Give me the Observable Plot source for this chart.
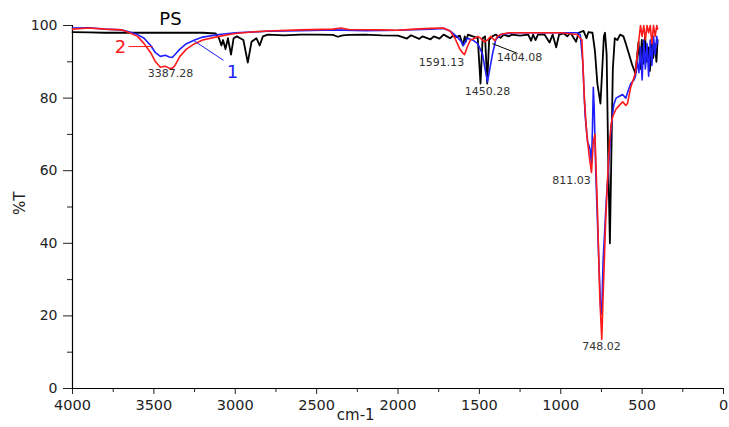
<!DOCTYPE html>
<html>
<head>
<meta charset="utf-8">
<script src="https://cdn.jsdelivr.net/npm/d3@7"></script>
<script src="https://cdn.jsdelivr.net/npm/@observablehq/plot@0.6"></script>
<style>
  html, body { margin: 0; padding: 0; background: #fff; }
  #chart svg { display: block; }
</style>
</head>
<body>
<div id="chart"></div>
<script>
// wavenumber (cm-1), %T
const psSeries = [
  [4000,98.2],[3900,98.1],[3800,98.0],[3700,98.0],[3600,98.0],[3500,98.0],[3400,98.0],[3300,98.0],[3200,98.0],
  [3120,97.8],[3100,96.5],[3085,94.5],[3075,96.0],[3060,93.5],[3045,96.5],[3026,92.0],[3010,96.5],[2990,97.0],
  [2950,96.0],[2923,89.8],[2900,95.5],[2870,96.5],[2850,94.5],[2830,97.0],[2800,97.5],[2700,97.3],[2600,97.5],
  [2500,97.5],[2400,97.4],[2370,96.9],[2340,97.3],[2300,97.4],[2200,97.5],[2100,97.3],[2000,97.2],[1945,96.4],
  [1920,97.3],[1870,96.3],[1850,97.0],[1800,96.2],[1780,97.0],[1745,96.4],[1720,97.5],[1700,97.0],[1680,96.5],
  [1660,97.3],[1640,96.8],[1620,97.2],[1601,94.5],[1590,97.0],[1583,95.5],[1570,97.5],[1540,97.0],[1510,96.5],
  [1493,84.0],[1480,96.5],[1465,97.0],[1452,84.0],[1440,96.0],[1420,97.0],[1400,97.5],[1370,96.6],[1350,97.5],
  [1320,97.0],[1300,97.5],[1250,97.2],[1200,97.5],[1182,95.8],[1170,97.5],[1155,96.0],[1140,97.5],[1100,97.5],
  [1069,95.3],[1050,97.5],[1028,94.0],[1010,97.5],[980,97.8],[960,97.0],[940,98.0],[906,95.5],[890,98.0],
  [860,98.5],[842,96.5],[830,98.2],[805,98.0],[790,93.0],[775,84.0],[756,78.5],[745,88.0],[735,97.0],
  [728,98.0],[718,92.0],[708,62.0],[698,40.0],[690,62.0],[680,88.0],[668,96.5],[652,96.0],[635,97.5],
  [615,97.0],[600,95.0],[580,92.0],[560,89.0],[541,86.8],[532,91.0],[522,95.5],[512,88.0],[502,96.0],
  [492,89.5],[482,97.0],[472,90.0],[462,94.0],[452,87.5],[442,96.0],[432,91.0],[422,95.0],[412,90.0],[405,96.0]
];
const sample1Series = [
  [4000,99.3],[3900,99.4],[3800,99.0],[3700,98.8],[3650,98.2],[3600,97.5],[3560,96.5],[3520,94.5],[3490,92.5],
  [3460,91.5],[3430,91.8],[3405,91.3],[3387,91.2],[3370,92.0],[3340,93.5],[3300,95.0],[3250,96.0],[3200,96.8],
  [3100,97.5],[3000,98.0],[2800,98.4],[2600,98.6],[2400,98.8],[2200,98.6],[2000,98.7],[1800,99.0],[1720,99.2],
  [1680,98.5],[1640,97.0],[1610,95.5],[1600,94.5],[1591,95.0],[1575,96.5],[1540,96.0],[1510,95.0],[1480,92.0],
  [1465,88.0],[1450,84.5],[1440,87.0],[1420,92.0],[1400,96.0],[1370,97.5],[1300,98.0],[1100,98.0],[1000,98.0],
  [900,98.0],[880,97.5],[865,90.0],[850,75.0],[835,68.0],[820,66.0],[811,62.0],[805,72.0],[800,83.0],
  [795,78.0],[785,60.0],[770,40.0],[755,22.0],[748,20.5],[740,35.0],[720,52.0],[705,62.0],[690,72.0],
  [675,78.0],[660,80.0],[640,80.5],[620,81.0],[600,80.0],[590,81.5],[570,84.0],[550,85.0],[541,86.0],
  [530,90.0],[520,87.0],[510,94.0],[500,85.0],[490,96.0],[480,88.0],[470,95.0],[460,86.0],[450,96.0],
  [440,89.0],[430,97.0],[420,92.0],[410,97.0],[405,95.0]
];
const sample2Series = [
  [4000,99.0],[3900,99.3],[3800,99.0],[3700,98.8],[3650,98.0],[3600,97.0],[3560,95.0],[3520,92.5],[3490,90.0],
  [3460,88.5],[3430,88.8],[3405,88.2],[3387,88.2],[3370,89.0],[3340,91.5],[3300,93.5],[3250,95.0],[3200,96.0],
  [3100,97.0],[3000,97.8],[2900,98.2],[2800,98.5],[2600,98.8],[2400,99.0],[2350,99.3],[2300,98.9],[2100,98.8],
  [2000,98.7],[1900,99.0],[1800,99.2],[1720,99.3],[1680,98.5],[1650,96.5],[1620,93.5],[1600,92.3],[1591,92.0],
  [1575,94.0],[1555,96.0],[1540,96.2],[1510,97.0],[1493,96.5],[1470,95.5],[1450,96.0],[1430,97.0],[1404,95.8],
  [1390,97.0],[1370,97.5],[1320,98.0],[1200,98.0],[1100,98.0],[1000,98.0],[900,97.5],[870,96.0],[855,80.0],
  [840,70.0],[825,64.0],[811,59.5],[800,68.0],[790,70.0],[775,50.0],[760,25.0],[748,13.5],[740,25.0],
  [725,45.0],[710,60.0],[700,68.0],[690,73.0],[680,75.0],[660,77.0],[640,78.0],[620,79.0],[600,78.0],
  [590,78.5],[570,83.0],[555,85.0],[541,87.0],[530,92.0],[520,96.0],[510,100],[500,97.0],[490,100],
  [480,96.0],[470,100],[460,98.0],[450,100],[440,95.0],[430,100],[420,97.0],[410,100],[405,99.0]
];

const xTicks = [4000,3500,3000,2500,2000,1500,1000,500,0];
const xMinorTicks = [3750,3250,2750,2250,1750,1250,750,250];
const yTicks = [0,20,40,60,80,100];
const yMinorTicks = [10,30,50,70,90];

// annotations [wavenumber, %T, text]
const peakLabels = [
  [3398,86.8,"3387.28"],[1733,89.8,"1591.13"],[1450,81.8,"1450.28"],
  [1253,91.2,"1404.08"],[934,57.3,"811.03"],[750,11.6,"748.02"]
];
const seriesLabels = [
  [3398,101.8,"PS","black"],[3705,93.9,"2","#ff1a1a"],[3017,87.0,"1","#2020ff"]
];
const leaders = [
  [3656,94.2,3508,94.2,"#ff1a1a"],
  [3257,95.9,3072,90.4,"#2020ff"],
  [1420,95.0,1265,92.3,"black"]
];

const toRows = arr => arr.map(([w,t]) => ({w, t}));

const fontFam = "DejaVu Sans, Liberation Sans, Arial, sans-serif";

const chart = Plot.plot({
  width: 729,
  height: 427,
  marginLeft: 72,
  marginRight: 6,
  marginTop: 25,
  marginBottom: 39,
  style: {fontFamily: fontFam, background: "#fff", color: "#222"},
  x: {domain: [4000, 0]},
  y: {domain: [0, 100]},
  marks: [
    Plot.axisX({ticks: xTicks, tickSize: 6, tickPadding: 5, fontSize: 14.5, label: null, tickFormat: d => String(d)}),
    Plot.axisX({ticks: xMinorTicks, tickSize: 4, tickFormat: () => "", label: null}),
    Plot.axisY({ticks: yTicks, tickSize: 9, tickPadding: 6, fontSize: 14, label: null}),
    Plot.axisY({ticks: yMinorTicks, tickSize: 5, tickFormat: () => "", label: null}),
    Plot.ruleY([0], {x1: 4000, x2: 0, stroke: "black", strokeWidth: 1.2}),
    Plot.ruleX([4000], {y1: 0, y2: 100, stroke: "black", strokeWidth: 1.2}),
    Plot.line(toRows(psSeries), {x: "w", y: "t", stroke: "black", strokeWidth: 1.8}),
    Plot.line(toRows(sample1Series), {x: "w", y: "t", stroke: "#2020ff", strokeWidth: 1.6}),
    Plot.line(toRows(sample2Series), {x: "w", y: "t", stroke: "#ff1a1a", strokeWidth: 1.6}),
    Plot.link(leaders, {x1: d => d[0], y1: d => d[1], x2: d => d[2], y2: d => d[3], stroke: d => d[4], strokeWidth: 1}),
    Plot.text(peakLabels, {x: d => d[0], y: d => d[1], text: d => d[2], fontSize: 11, fill: "#333"}),
    Plot.text(seriesLabels, {x: d => d[0], y: d => d[1], text: d => d[2], fill: d => d[3], fontSize: 18}),
    Plot.text(["cm-1"], {x: 2260, frameAnchor: "bottom", dy: 31, fontSize: 15, fill: "#222"}),
    Plot.text(["%T"], {frameAnchor: "left", dx: -52, dy: 8, rotate: -90, fontSize: 15, fill: "#222"})
  ]
});
document.getElementById("chart").appendChild(chart);
</script>
</body>
</html>
